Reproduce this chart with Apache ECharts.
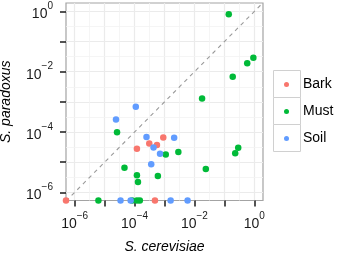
<!DOCTYPE html>
<html>
<head>
<meta charset="utf-8">
<script src="https://cdn.jsdelivr.net/npm/echarts@6/dist/echarts.min.js"></script>
<style>
  html, body { margin: 0; padding: 0; background: #fff; }
  #chart { width: 340px; height: 256px; }
</style>
</head>
<body>
<div id="chart"></div>
<script>
// groups + colours (ggplot default hues)
var groups = ['Bark', 'Must', 'Soil'];
var colors = ['#F8766D', '#00BA38', '#619CFF'];

// S. cerevisiae (x) / S. paradoxus (y) frequencies, 0 = not detected
var barkX = [9.1e-4, 3.1e-4, 5.6e-4, 1.2e-4, 4.8e-4, 0];
var barkY = [6.6e-5, 4.2e-5, 3.7e-5, 2.8e-5, 0, 0];

var mustX = [2.6e-5, 1.1e-3, 2.9e-3, 4.6e-5, 1.2e-4, 6.0e-4, 1.3e-4, 1.8e-2, 0.29, 0.23,
             2.4e-2, 0.14, 0.93, 0.58, 0.19, 6.2e-6, 8.3e-5, 1.2e-4, 1.5e-4];
var mustY = [9.8e-5, 1.8e-5, 2.2e-5, 6.5e-6, 3.7e-6, 3.5e-6, 2.2e-6, 1.3e-3, 3.0e-5, 2.0e-5,
             5.9e-6, 0.81, 2.9e-2, 1.9e-2, 6.8e-3, 0, 0, 0, 0];

var soilX = [1.1e-4, 2.4e-5, 2.5e-4, 2.1e-3, 4.3e-4, 7.1e-4, 3.6e-4, 3.4e-5, 7.4e-5, 1.6e-3, 5.9e-3];
var soilY = [6.9e-4, 2.6e-4, 6.9e-5, 6.5e-5, 3.1e-5, 1.9e-5, 8.5e-6, 0, 0, 0, 0];

// decades (log10) for ticks / labels / grid
var majorTicks = [-6, -5, -4, -3, -2, -1, 0];
var labelTicks = [-6, -4, -2, 0];
var minorTicks = [-5.5, -4.5, -3.5, -2.5, -1.5, -0.5];

var xRange = [-6.29, 0.29];
var yRange = [-6.27, 0.28];

function toLog(v, floor) {
  return v > 0 ? Math.log10(v) : floor;
}

function pairs(xs, ys) {
  return xs.map(function (x, i) {
    return [toLog(x, xRange[0]), toLog(ys[i], yRange[0])];
  });
}

var chart = echarts.init(document.getElementById('chart'));

var fontFamily = 'Liberation Sans, Arial, sans-serif';

function powLabel(v) {
  var e = Math.round(v);
  var s = e < 0 ? '\u2212' + (-e) : String(e);
  return '{b|10}{s|' + s + '}';
}

var labelRich = {
  b: { fontSize: 14, fontFamily: fontFamily, color: '#1a1a1a', lineHeight: 20, verticalAlign: 'bottom' },
  s: { fontSize: 10, fontFamily: fontFamily, color: '#1a1a1a', lineHeight: 10, verticalAlign: 'top' }
};

function mainAxis(range, name, nameGap, isX) {
  return {
    type: 'value',
    min: range[0],
    max: range[1],
    name: name,
    nameLocation: 'middle',
    nameGap: nameGap,
    nameTextStyle: { fontSize: 14, fontStyle: 'italic', fontFamily: fontFamily, color: '#000' },
    axisLine: { show: false, onZero: false },
    axisTick: { show: true, length: 6, customValues: majorTicks, lineStyle: { color: '#1a1a1a', width: 1.5 } },
    axisLabel: { customValues: labelTicks, formatter: powLabel, rich: labelRich, margin: isX ? 11 : 13 },
    splitLine: { show: true, lineStyle: { color: '#ebebeb', width: 1.2 } }
  };
}

// minor grid lines at half decades
var minorGrid = minorTicks.map(function (v) { return { xAxis: v }; })
  .concat(minorTicks.map(function (v) { return { yAxis: v }; }));

var series = [
  {
    type: 'line',
    data: [],
    silent: true,
    z: 0,
    markLine: {
      silent: true,
      symbol: 'none',
      z: 0,
      label: { show: false },
      animation: false,
      lineStyle: { color: '#f3f3f3', width: 0.8, type: 'solid' },
      data: minorGrid
    }
  },
  {
    type: 'line',
    data: [[xRange[0], xRange[0]], [xRange[1], xRange[1]]],
    symbol: 'none',
    silent: true,
    lineStyle: { color: '#9a9a9a', width: 1.1, type: [4, 4] },
    z: 1
  }
];

var groupData = [pairs(barkX, barkY), pairs(mustX, mustY), pairs(soilX, soilY)];
groups.forEach(function (g, i) {
  series.push({
    name: g,
    type: 'scatter',
    data: groupData[i],
    symbol: 'circle',
    symbolSize: 6.5,
    itemStyle: { color: colors[i], opacity: 1 },
    clip: true,
    z: 10
  });
});

var option = {
  animation: false,
  grid: {
    left: 66, right: 77, top: 3, bottom: 55.5,
    outerBoundsMode: 'none',
    containLabel: false,
    show: true,
    borderColor: '#a3a3a3',
    borderWidth: 1.2,
    backgroundColor: '#fff'
  },
  xAxis: mainAxis(xRange, 'S. cerevisiae', 40, true),
  yAxis: mainAxis(yRange, 'S. paradoxus', 53, false),
  legend: {
    data: groups,
    orient: 'vertical',
    left: 284,
    top: 71,
    padding: 0,
    itemGap: 0,
    icon: 'circle',
    itemWidth: 5,
    itemHeight: 5,
    textStyle: { fontSize: 14, fontFamily: fontFamily, color: '#000', lineHeight: 27, padding: [0, 0, 0, 9] }
  },
  graphic: groups.map(function (g, i) {
    return {
      type: 'rect',
      shape: { x: 273.5, y: 70.5 + 27 * i, width: 27, height: 27 },
      style: { fill: '#fff', stroke: '#d0d0d0', lineWidth: 1 },
      z: -1,
      silent: true
    };
  }),
  series: series
};

chart.setOption(option);
</script>
</body>
</html>
